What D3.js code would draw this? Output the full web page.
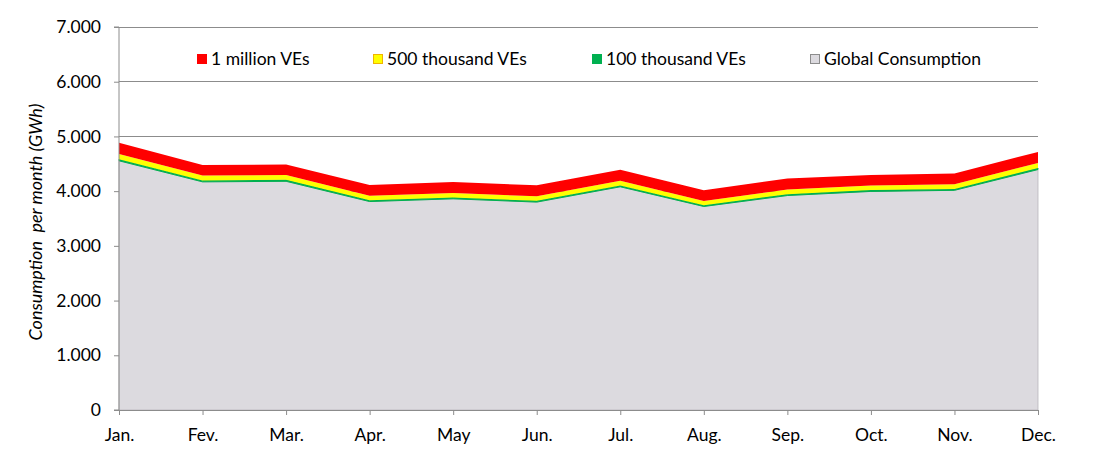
<!DOCTYPE html>
<html><head><meta charset="utf-8">
<script src="https://cdn.jsdelivr.net/npm/d3@7"></script>
<style>body{margin:0;background:#fff;} svg text{font-family:Lato,"Open Sans",sans-serif;fill:#000;}</style>
</head><body><svg id="c" width="1097" height="459"></svg>
<script>
const months = ["Jan.","Fev.","Mar.","Apr.","May","Jun.","Jul.","Aug.","Sep.","Oct.","Nov.","Dec."];
const globalConsumption = [4555,4170,4180,3810,3860,3800,4080,3720,3920,3995,4015,4395];
const ve100k = [28,26,26,24,24,24,25,23,24,25,25,27];
const ve500k = [97,89,89,81,82,81,87,79,84,85,86,94];
const ve1M   = [203,192,192,195,200,203,201,196,201,189,195,201];
const yTicks = [0,1000,2000,3000,4000,5000,6000,7000];
const seriesNames = ["Global Consumption","100 thousand VEs","500 thousand VEs","1 million VEs"];
const seriesColors = ["#dcdadf","#00b050","#ffff00","#ff0000"];
const legendOrder = ["1 million VEs","500 thousand VEs","100 thousand VEs","Global Consumption"];
const legendBorders = {"1 million VEs":"#ff0000","500 thousand VEs":"#f0b400","100 thousand VEs":"#00b050","Global Consumption":"#8c8c8c"};

const svg = d3.select("#c");
const m = {l:119, r:1038, t:27, b:410};
const x = d3.scalePoint().domain(months).range([m.l, m.r]);
const y = d3.scaleLinear().domain([0,7000]).range([m.b, m.t]);
const FS = "17.5px";

const table = months.map((mo,i)=>({month:mo,
  "Global Consumption":globalConsumption[i],
  "100 thousand VEs":ve100k[i],
  "500 thousand VEs":ve500k[i],
  "1 million VEs":ve1M[i]}));
const stack = d3.stack().keys(seriesNames)(table);

// gridlines
svg.append("g").selectAll("line").data(yTicks.filter(d=>d>0)).join("line")
  .attr("x1",m.l).attr("x2",m.r).attr("y1",d=>y(d)).attr("y2",d=>y(d))
  .attr("stroke","#8c8c8c").attr("stroke-width",1).attr("shape-rendering","crispEdges");

const area = d3.area().x(d=>x(d.data.month)).y0(d=>y(d[0])).y1(d=>y(d[1]));
svg.append("g").selectAll("path").data(stack).join("path")
  .attr("d",area).attr("fill",(d,i)=>seriesColors[i])
  .attr("stroke",(d,i)=>i===0?"#b8b6bb":(i===1?"#00b050":"none"))
  .attr("stroke-width",(d,i)=>i===0?0.8:1);

// axes
const ya = svg.append("g").attr("transform",`translate(${m.l},0)`)
  .call(d3.axisLeft(y).tickValues(yTicks).tickSize(5).tickPadding(13)
    .tickFormat(d=>d===0?"0":d3.format(",")(d).replace(/,/g,".")));
const xa = svg.append("g").attr("transform",`translate(0,${m.b})`)
  .call(d3.axisBottom(x).tickSize(5).tickPadding(14));
[ya,xa].forEach(a=>{
  a.select(".domain").attr("stroke","#8c8c8c");
  a.selectAll(".tick line").attr("stroke","#8c8c8c");
  a.selectAll("text").style("font-size",FS).style("font-family","Lato,'Open Sans',sans-serif").attr("fill","#000");
});
ya.select(".domain").attr("d",`M-5,${m.t}H0V${m.b}H-5`);

// y title
svg.append("text").attr("transform","translate(42,222) rotate(-90)")
  .attr("text-anchor","middle").style("font-size","18px").style("font-style","italic")
  .attr("xml:space","preserve").text("Consumption  per month (GWh)");

// legend
const legX = [197,373,592,810];
const lg = svg.append("g").selectAll("g").data(legendOrder).join("g")
  .attr("transform",(d,i)=>`translate(${legX[i]},54)`);
lg.append("rect").attr("x",0.5).attr("y",0.5).attr("width",9).attr("height",9)
  .attr("fill",d=>seriesColors[seriesNames.indexOf(d)]).attr("stroke",d=>legendBorders[d]);
lg.append("text").attr("x",14).attr("y",11).style("font-size",FS).text(d=>d);
</script></body></html>
